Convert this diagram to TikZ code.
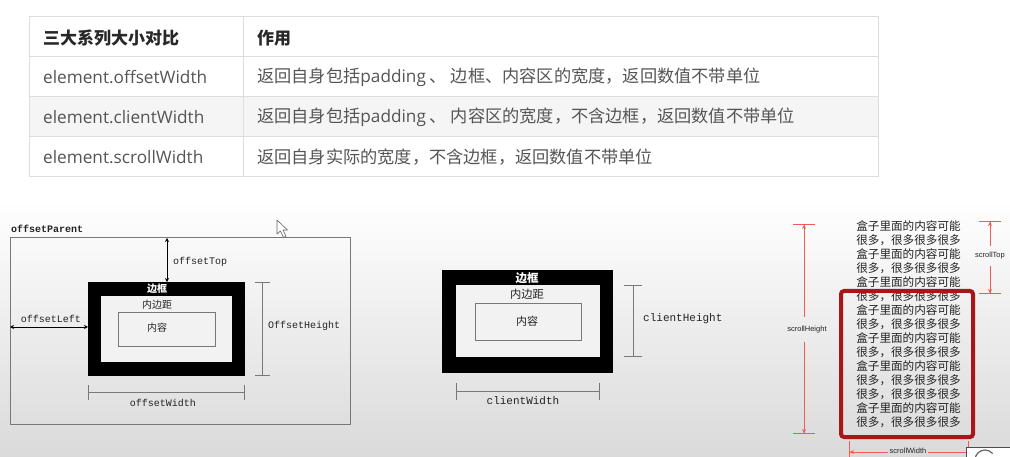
\documentclass[tikz,border=0pt]{standalone}
\usepackage{fontspec}
\setmainfont{Open Sans}
\newfontfamily\cjk{Noto Sans CJK SC}
\newfontfamily\os{Open Sans}
\newfontfamily\mono{Liberation Mono}
\newfontfamily\lsans{Liberation Sans}
\usetikzlibrary{arrows.meta}
\definecolor{tblline}{RGB}{221,221,221}
\definecolor{rowgray}{RGB}{245,245,245}
\definecolor{bodytxt}{RGB}{85,85,85}
\definecolor{headtxt}{RGB}{40,40,40}
\definecolor{bggray}{RGB}{218,218,218}
\definecolor{innergray}{RGB}{242,242,242}
\definecolor{framegray}{RGB}{120,120,120}
\definecolor{dimred}{RGB}{240,90,90}
\definecolor{boxred}{RGB}{168,22,22}
\definecolor{labgray}{RGB}{35,35,35}
\tikzset{
  celltxt/.style={anchor=west, inner sep=0pt, text=bodytxt, font=\os\fontsize{17.2}{20}\selectfont},
  headcell/.style={anchor=west, inner sep=0pt, text=headtxt, font=\cjk\bfseries\fontsize{17}{20}\selectfont},
  monolab/.style={inner sep=0pt, text=labgray, font=\mono\fontsize{10}{12}\selectfont},
  monolabB/.style={inner sep=0pt, text=labgray, font=\mono\fontsize{11}{13}\selectfont},
  blackbox/.style={fill=black, draw=none, inner sep=0pt},
  padbox/.style={fill=innergray, draw=none, inner sep=0pt},
  contbox/.style={draw=framegray, line width=0.9pt, fill=innergray, inner sep=0pt},
  cjklab/.style={inner sep=0pt, text=labgray, font=\cjk\fontsize{10}{12}\selectfont},
  dimline/.style={draw=framegray, line width=0.9pt, {Bar[width=15pt]}-{Bar[width=15pt]}},
  dblarrow/.style={draw=black, line width=0.7pt, {Stealth[length=4pt,width=4pt]}-{Stealth[length=4pt,width=4pt]}},
  redarr/.style={draw=dimred, line width=0.9pt, -{Stealth[length=4pt,width=4pt]Bar[width=22pt]}},
  redlab/.style={text=labgray, font=\lsans\fontsize{7.5}{9}\selectfont},
}
\begin{document}
\begin{tikzpicture}[x=1pt,y=-1pt]
\useasboundingbox (0,0) rectangle (1010,457);
% background
\fill[white] (0,0) rectangle (1010,457);
\shade[top color=white, bottom color=bggray] (0,200) rectangle (1010,457);

% ---------- table ----------
\fill[white] (29,17) rectangle (878,177);
\fill[rowgray] (29,97) rectangle (878,137);
\draw[tblline, line width=1pt] (29,17) rectangle (878,177);
\foreach \yy in {57,97,137} \draw[tblline, line width=1pt] (29,\yy) -- (878,\yy);
\draw[tblline, line width=1pt] (243,17) -- (243,177);

\node[headcell] (h1) at (43,38) {三大系列大小对比};
\node[headcell] (h2) at (257,38) {作用};
\node[celltxt] (r1a) at (43,77.5) {element.offsetWidth};
\node[celltxt] (r1b) at (257,77.5) {\cjk 返回自身包括{\os padding}\hspace{4pt}、 边框、内容区的宽度，返回数值不带单位};
\node[celltxt] (r2a) at (43,117.5) {element.clientWidth};
\node[celltxt] (r2b) at (257,117.5) {\cjk 返回自身包括{\os padding}\hspace{4pt}、 内容区的宽度，不含边框，返回数值不带单位};
\node[celltxt] (r3a) at (43,157.5) {element.scrollWidth};
\node[celltxt] (r3b) at (257,157.5) {\cjk 返回自身实际的宽度，不含边框，返回数值不带单位};

% ---------- offset diagram ----------
\node[draw=framegray, line width=1pt, inner sep=0pt, minimum width=340pt, minimum height=186pt] (parent) at (180,331) {};
\node[anchor=west, inner sep=0pt, text=labgray, font=\mono\bfseries\fontsize{10}{12}\selectfont] (ptitle) at (11,229) {offsetParent};
\node[blackbox, minimum width=157pt, minimum height=94pt] (ob) at (166.5,329) {};
\node[padbox, minimum width=131pt, minimum height=66pt] (op) at (166.5,329) {};
\node[contbox, minimum width=97pt, minimum height=34pt] (oc) at (166.5,329) {};
\node[cjklab, text=white, font=\cjk\bfseries\fontsize{10}{12}\selectfont] (obl) at (157,289) {边框};
\node[cjklab] (opl) at (157,305) {内边距};
\node[cjklab] (ocl) at (157,328) {内容};
\coordinate (ttop) at (167,238);
\coordinate (tbot) at (167,282);
\draw[dblarrow] (ttop) -- (tbot);
\node[monolab, anchor=west] (ltop) at (173,262) {offsetTop};
\coordinate (lleft) at (10,327);
\coordinate (lright) at (88,327);
\draw[dblarrow] (lleft) -- (lright);
\node[monolab] (lleftl) at (51,319) {offsetLeft};
\coordinate (oh1) at (262,282);
\coordinate (oh2) at (262,376);
\draw[dimline] (oh1) -- (oh2);
\node[monolab, anchor=west] (ohl) at (268,326) {OffsetHeight};
\coordinate (ow1) at (88,392);
\coordinate (ow2) at (245,392);
\draw[dimline] (ow1) -- (ow2);
\node[monolab] (owl) at (163,403) {offsetWidth};

% cursor
\draw[fill=white, draw=black!60, line width=0.6pt, line join=round]
  (277,220) -- (277,234) -- (280.5,231) -- (283.5,237.5) -- (286,236.3) -- (283,230) -- (287.5,230) -- cycle;

% ---------- client diagram ----------
\node[blackbox, minimum width=171pt, minimum height=103pt] (cb) at (527.5,321.5) {};
\node[padbox, minimum width=144pt, minimum height=72pt] (cp) at (528,321) {};
\node[contbox, minimum width=106pt, minimum height=37pt] (cc) at (528,321.5) {};
\node[cjklab, text=white, font=\cjk\bfseries\fontsize{11.5}{13}\selectfont] (cbl) at (527,278) {边框};
\node[cjklab, font=\cjk\fontsize{11.3}{13}\selectfont] (cpl) at (527,294) {内边距};
\node[cjklab, font=\cjk\fontsize{11}{13}\selectfont] (ccl) at (527,321) {内容};
\coordinate (ch1) at (633,285);
\coordinate (ch2) at (633,357);
\draw[dimline, {Bar[width=18pt]}-{Bar[width=18pt]}] (ch1) -- (ch2);
\node[monolabB, anchor=west] (chl) at (643,319) {clientHeight};
\coordinate (cw1) at (456,391);
\coordinate (cw2) at (600,391);
\draw[dimline, {Bar[width=17pt]}-{Bar[width=17pt]}] (cw1) -- (cw2);
\node[monolabB] (cwl) at (523,401) {clientWidth};

% ---------- scroll diagram ----------
\node[anchor=north, inner sep=0pt, align=center, text=labgray, font=\cjk\fontsize{11.6}{14}\selectfont] (stext) at (908.5,220.5)
{盒子里面的内容可能\\很多，很多很多很多\\盒子里面的内容可能\\很多，很多很多很多\\盒子里面的内容可能\\很多，很多很多很多\\盒子里面的内容可能\\很多，很多很多很多\\盒子里面的内容可能\\很多，很多很多很多\\盒子里面的内容可能\\很多，很多很多很多\\很多，很多很多很多\\盒子里面的内容可能\\很多，很多很多很多};
\node[draw=boxred, line width=4pt, rounded corners=3pt, inner sep=0pt, minimum width=132pt, minimum height=146pt] (sbox) at (907,364) {};

\coordinate (shT) at (804,224);
\coordinate (shB) at (804,434);
\node[redlab, inner sep=0pt, minimum height=25pt] (shl) at (807,329.5) {scrollHeight};
\draw[redarr] (shl.north -| shT) -- (shT);
\draw[redarr] (shl.south -| shB) -- (shB);

\coordinate (stT) at (990,221);
\coordinate (stB) at (990,294);
\node[redlab, inner sep=0pt, minimum height=19pt] (stl) at (990,256) {scrollTop};
\draw[redarr] (stl.north) -- (stT);
\draw[redarr] (stl.south) -- (stB);

\coordinate (swL) at (849,452);
\coordinate (swR) at (969,452);
\node[redlab, inner sep=1pt] (swl) at (908,451) {scrollWidth};
\draw[redarr] (swl.west |- swL) -- (swL);
\draw[draw=dimred, line width=0.9pt, -{Bar[width=22pt]}] (swl.east |- swR) -- (swR);

% corner icon (partial)
\fill[white] (966,447) rectangle (1012,460);
\draw[black!70, line width=0.8pt] (966,460) -- (966,447) -- (1012,447);
\draw[black!60, line width=1.2pt] (975,460) arc[start angle=180, end angle=40, radius=10pt];
\end{tikzpicture}
\end{document}
